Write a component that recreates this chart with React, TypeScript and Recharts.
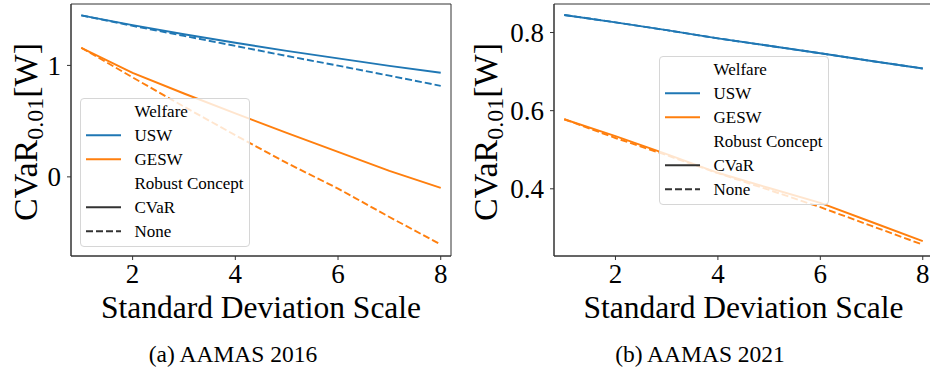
import React from "react";
import { LineChart, Line, XAxis, YAxis, ReferenceArea } from "recharts";

const XS = [1, 2, 3, 4, 5, 6, 7, 8];
const X_TICKS = [2, 4, 6, 8];

// AAMAS 2016
const USW_CVAR_2016 = [1.449, 1.362, 1.28, 1.203, 1.13, 1.063, 0.996, 0.934];
const USW_NONE_2016 = [1.449, 1.355, 1.265, 1.175, 1.085, 0.998, 0.908, 0.817];
const GESW_CVAR_2016 = [1.158, 0.934, 0.748, 0.569, 0.394, 0.224, 0.054, -0.099];
const GESW_NONE_2016 = [1.158, 0.892, 0.63, 0.374, 0.125, -0.105, -0.36, -0.607];
const Y_TICKS_2016 = [0, 1];

// AAMAS 2021
const USW_CVAR_2021 = [0.845, 0.826, 0.806, 0.785, 0.766, 0.747, 0.727, 0.708];
const USW_NONE_2021 = [0.845, 0.826, 0.806, 0.785, 0.766, 0.747, 0.727, 0.708];
const GESW_CVAR_2021 = [0.578, 0.535, 0.489, 0.441, 0.402, 0.364, 0.315, 0.266];
const GESW_NONE_2021 = [0.578, 0.53, 0.486, 0.44, 0.397, 0.353, 0.305, 0.257];
const Y_TICKS_2021 = [0.4, 0.6, 0.8];

const LEGEND_ROWS = [
  { label: "Welfare", color: null, dash: false },
  { label: "USW", color: "#1f77b4", dash: false },
  { label: "GESW", color: "#ff7f0e", dash: false },
  { label: "Robust Concept", color: null, dash: false },
  { label: "CVaR", color: "#333333", dash: false },
  { label: "None", color: "#333333", dash: true },
];

const BLUE = "#1f77b4";
const ORANGE = "#ff7f0e";
const FONT = "'Liberation Serif', 'Times New Roman', serif";
const DASH = "7 3";
const LW = 1.9;

const buildRows = (a: number[], b: number[], c: number[], d: number[]) =>
  XS.map((x, i) => ({ x, uswCvar: a[i], uswNone: b[i], geswCvar: c[i], geswNone: d[i] }));

const rows2016 = buildRows(USW_CVAR_2016, USW_NONE_2016, GESW_CVAR_2016, GESW_NONE_2016);
const rows2021 = buildRows(USW_CVAR_2021, USW_NONE_2021, GESW_CVAR_2021, GESW_NONE_2021);

function LegendBox({ left, top }: { left: number; top: number }) {
  return (
    <div
      style={{
        position: "absolute",
        left,
        top,
        width: 170,
        height: 149,
        boxSizing: "border-box",
        border: "1px solid #d6d6d6",
        borderRadius: 4,
        background: "rgba(255,255,255,0.8)",
      }}
    >
      <svg width={170} height={149} style={{ position: "absolute", left: -1, top: -1 }}>
        {LEGEND_ROWS.map((r, i) => {
          const cy = 13.3 + 24 * i;
          return (
            <g key={r.label}>
              {r.color && (
                <line
                  x1={6}
                  x2={41}
                  y1={cy}
                  y2={cy}
                  stroke={r.color}
                  strokeWidth={LW}
                  strokeDasharray={r.dash ? DASH : undefined}
                />
              )}
              <text x={54.5} y={cy + 6} style={{ fontFamily: FONT }} fontSize={17} fill="#000">
                {r.label}
              </text>
            </g>
          );
        })}
      </svg>
    </div>
  );
}

function YLabel({ viewBox, dx }: any) {
  const cx = viewBox.x + dx;
  const cy = 132;
  return (
    <text
      x={cx}
      y={cy}
      transform={`rotate(-90, ${cx}, ${cy})`}
      textAnchor="middle"
      style={{ fontFamily: FONT }}
      fontSize={34}
      fill="#000"
    >
      <tspan>CVaR</tspan>
      <tspan fontSize={24} dy={6}>0.01</tspan>
      <tspan dy={-6}>[W]</tspan>
    </text>
  );
}

function XLabel({ viewBox }: any) {
  return (
    <text
      x={viewBox.x + viewBox.width / 2}
      y={318}
      textAnchor="middle"
      style={{ fontFamily: FONT }}
      fontSize={31.5}
      fill="#000"
    >
      Standard Deviation Scale
    </text>
  );
}

interface PanelProps {
  data: any[];
  width: number;
  marginLeft: number;
  marginRight: number;
  yWidth: number;
  yDomain: [number, number];
  yTicks: number[];
  labelDx: number;
  fmt: (v: number) => string;
}

function Panel({ data, width, marginLeft, marginRight, yWidth, yDomain, yTicks, labelDx, fmt }: PanelProps) {
  const tick = { fill: "#000", fontSize: 27, fontFamily: FONT, style: { fontFamily: FONT } };
  return (
    <LineChart
      width={width}
      height={330}
      data={data}
      margin={{ top: 4, right: marginRight, left: marginLeft, bottom: 4 }}
    >
      <XAxis
        dataKey="x"
        type="number"
        domain={[0.8, 8.2]}
        ticks={X_TICKS}
        allowDataOverflow
        height={70}
        tick={tick}
        tickSize={4}
        tickMargin={4}
        stroke="#333"
        axisLine={{ stroke: "#333" }}
        tickLine={{ stroke: "#333" }}
        label={<XLabel />}
      />
      <YAxis
        type="number"
        domain={yDomain}
        ticks={yTicks}
        allowDataOverflow
        width={yWidth}
        tick={tick}
        tickSize={4}
        tickMargin={6}
        tickFormatter={fmt}
        axisLine={{ stroke: "#333" }}
        tickLine={{ stroke: "#333" }}
        label={<YLabel dx={labelDx} />}
      />
      <ReferenceArea
        x1={0.8}
        x2={8.2}
        y1={yDomain[0]}
        y2={yDomain[1]}
        fill="none"
        stroke="#333"
        strokeWidth={1}
      />
      <Line type="linear" dataKey="uswCvar" stroke={BLUE} strokeWidth={LW} dot={false} isAnimationActive={false} />
      <Line type="linear" dataKey="uswNone" stroke={BLUE} strokeWidth={LW} strokeDasharray={DASH} dot={false} isAnimationActive={false} />
      <Line type="linear" dataKey="geswCvar" stroke={ORANGE} strokeWidth={LW} dot={false} isAnimationActive={false} />
      <Line type="linear" dataKey="geswNone" stroke={ORANGE} strokeWidth={LW} strokeDasharray={DASH} dot={false} isAnimationActive={false} />
    </LineChart>
  );
}

export default function App() {
  return (
    <div
      style={{
        position: "absolute",
        left: 0,
        top: 0,
        width: 930,
        height: 375,
        overflow: "hidden",
        background: "#fff",
        fontFamily: FONT,
      }}
    >
      <div style={{ position: "absolute", left: 0, top: 0 }}>
        <Panel
          data={rows2016}
          width={465}
          marginLeft={11}
          marginRight={14}
          yWidth={60}
          yDomain={[-0.71, 1.551]}
          yTicks={Y_TICKS_2016}
          labelDx={26}
          fmt={(v) => String(v)}
        />
      </div>
      <div style={{ position: "absolute", left: 465, top: 0 }}>
        <Panel
          data={rows2021}
          width={480}
          marginLeft={12}
          marginRight={12}
          yWidth={77}
          yDomain={[0.228, 0.873]}
          yTicks={Y_TICKS_2021}
          labelDx={20}
          fmt={(v) => v.toFixed(1)}
        />
      </div>
      <LegendBox left={79.7} top={97.7} />
      <LegendBox left={658.7} top={55.7} />
      <svg width={930} height={45} style={{ position: "absolute", left: 0, top: 330 }}>
        <text x={233} y={32} textAnchor="middle" style={{ fontFamily: FONT }} fontSize={23.5} fill="#000">
          (a) AAMAS 2016
        </text>
        <text x={700} y={32} textAnchor="middle" style={{ fontFamily: FONT }} fontSize={23.5} fill="#000">
          (b) AAMAS 2021
        </text>
      </svg>
    </div>
  );
}
